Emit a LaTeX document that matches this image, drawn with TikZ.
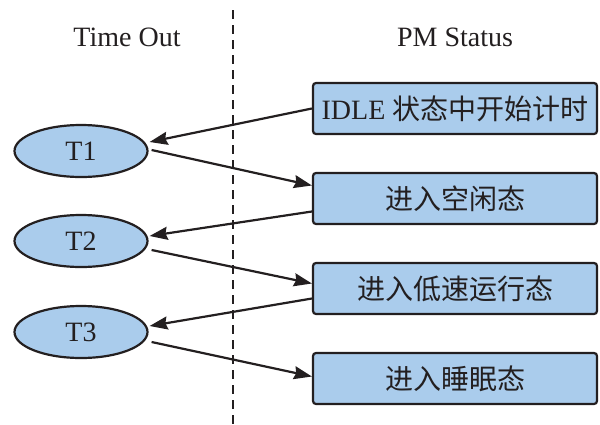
\documentclass[tikz,border=0pt]{standalone}
\usepackage{fontspec}
\setmainfont{Liberation Serif}
\newfontfamily\cjk{Noto Sans CJK SC}[Scale=1.0]
\usetikzlibrary{shapes.geometric,arrows.meta}
\definecolor{boxblue}{RGB}{170,204,236}
\definecolor{ink}{RGB}{35,31,32}
\begin{document}
\begin{tikzpicture}[x=1pt,y=-1pt,
  every node/.style={font=\fontsize{28}{31}\selectfont, text=ink},
  tnode/.style={ellipse, draw=ink, line width=2.2pt, fill=boxblue, minimum width=133pt, minimum height=52pt, inner sep=0pt},
  sbox/.style={rectangle, rounded corners=3pt, draw=ink, line width=2.2pt, fill=boxblue, minimum width=284pt, minimum height=51pt, inner sep=0pt},
  arr/.style={draw=ink, line width=2.2pt, -{Stealth[length=18pt,width=13pt,inset=2pt]}},
  divider/.style={draw=ink, line width=2pt, dash pattern=on 9pt off 6pt}]
\useasboundingbox (0,0) rectangle (600,424);
\coordinate (dtop) at (233,10);
\coordinate (dbot) at (233,424);
\draw[divider] (dtop) -- (dbot);
\node (h1) at (127,37) {Time Out};
\node (h2) at (455,37) {PM Status};
\node[tnode] (T1) at (81,151) {T1};
\node[tnode] (T2) at (81,241) {T2};
\node[tnode] (T3) at (81,332) {T3};
\node[sbox] (b1) at (455,108.5) {IDLE {\cjk 状态中开始计时}};
\node[sbox] (b2) at (455,198.5) {\cjk 进入空闲态};
\node[sbox] (b3) at (455,288.5) {\cjk 进入低速运行态};
\node[sbox] (b4) at (455,378.5) {\cjk 进入睡眠态};
\draw[arr] ([yshift=0pt]b1.west) -- ([shift={(1pt,9pt)}]T1.east);
\draw[arr] ([shift={(3pt,1pt)}]T1.east) -- ([yshift=13pt]b2.west);
\draw[arr] ([yshift=-13pt]b2.west) -- ([shift={(1pt,5pt)}]T2.east);
\draw[arr] ([shift={(3pt,-9pt)}]T2.east) -- ([yshift=5pt]b3.west);
\draw[arr] ([yshift=-10pt]b3.west) -- ([shift={(1pt,6pt)}]T3.east);
\draw[arr] ([shift={(3pt,-10pt)}]T3.east) -- ([yshift=2pt]b4.west);
\end{tikzpicture}
\end{document}
